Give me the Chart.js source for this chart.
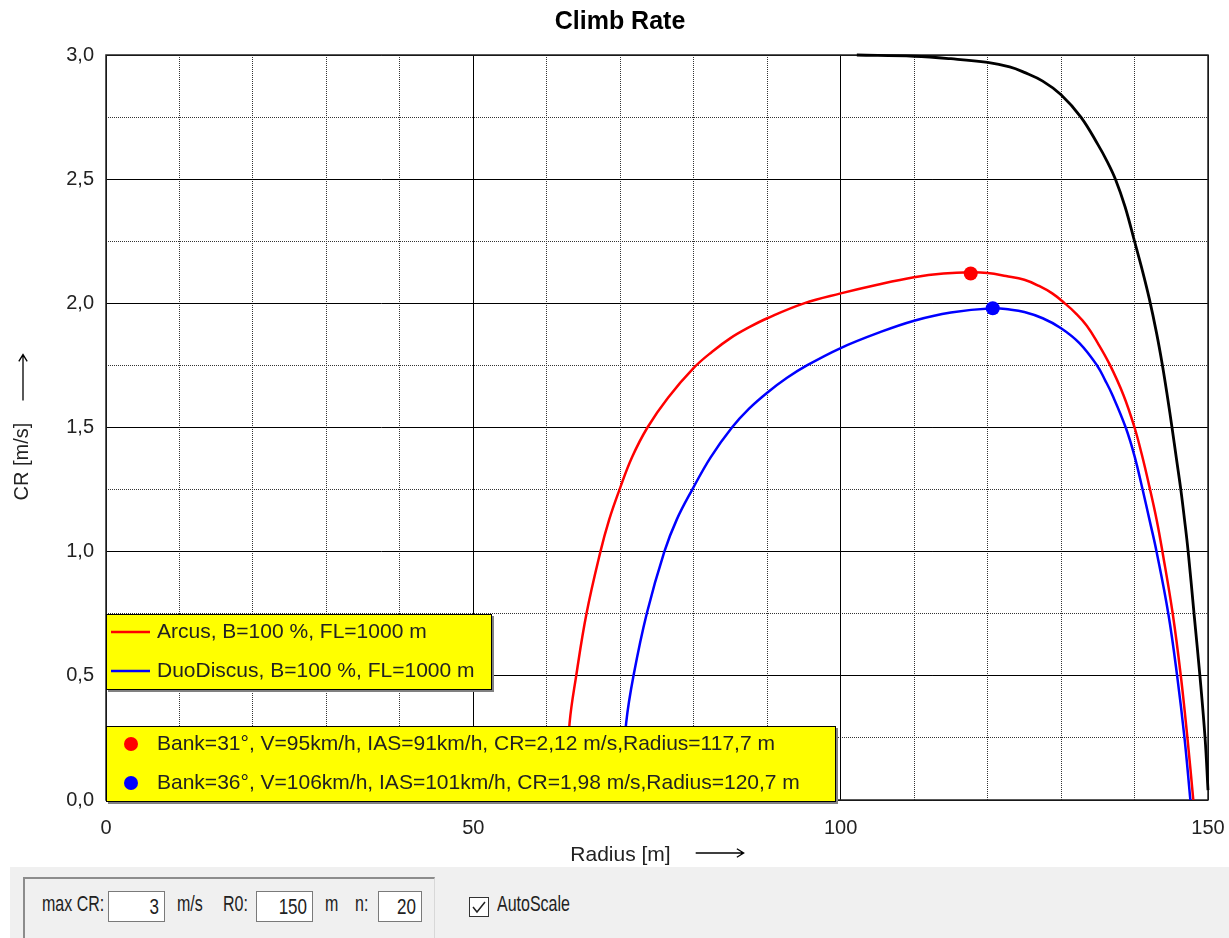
<!DOCTYPE html>
<html>
<head>
<meta charset="utf-8">
<title>Climb Rate</title>
<script src="https://cdn.jsdelivr.net/npm/chart.js@4/dist/chart.umd.min.js"></script>
<style>
    body { margin: 0; background: #fff; font-family: "Liberation Sans", Arial, sans-serif; }
    #wrap { position: relative; width: 1229px; height: 938px; overflow: hidden; }
    #chartClimb { position: absolute; left: 0; top: 0; }
    #panel { position: absolute; left: 10px; top: 867px; width: 1219px; height: 71px; background: #f0f0f0; }
    #group { position: absolute; left: 13px; top: 10px; width: 409px; height: 70px;
             border-top: 2px solid #8c8c8c; border-left: 2px solid #8c8c8c; border-right: 1px solid #d8d8d8; }
    .lbl { position: absolute; top: 28px; font-size: 16px; color: #222; transform: scaleY(1.35); white-space: nowrap; }
    .inp { position: absolute; top: 24px; height: 31px; border: 1px solid #7a7a7a; background: #fff;
           font-size: 17px; color: #222; text-align: right; line-height: 29px; padding-right: 5px; box-sizing: border-box; }
    .inp span { display: inline-block; transform: scaleY(1.35); }
    #chk { position: absolute; left: 459px; top: 30px; width: 20px; height: 20px; box-sizing: border-box;
           border: 1px solid #333; background: #fff; }
</style>
</head>
<body>
<div id="wrap">
    <canvas id="chartClimb" width="1229" height="866"></canvas>
    <div id="panel">
        <div id="group"></div>
        <div class="lbl" style="left:32px">max CR:</div>
        <div class="inp" style="left:98px;width:57px"><span>3</span></div>
        <div class="lbl" style="left:167px">m/s</div>
        <div class="lbl" style="left:213px">R0:</div>
        <div class="inp" style="left:246px;width:57px"><span>150</span></div>
        <div class="lbl" style="left:315px">m</div>
        <div class="lbl" style="left:345px">n:</div>
        <div class="inp" style="left:368px;width:44px"><span>20</span></div>
        <div id="chk"><svg width="18" height="18"><polyline points="3,9 7,14 15,4" fill="none" stroke="#222" stroke-width="1.5"/></svg></div>
        <div class="lbl" style="left:487px">AutoScale</div>
    </div>
</div>
<script>
// Arcus curve (radius m / climb rate m/s)
var radiusArcus = [62.6, 62.9, 63.1, 64.0, 65.4, 67.3, 68.5, 69.9, 71.6, 73.7, 76.5, 80.0, 82.5, 85.0, 87.5, 90.0, 95.0, 100.0, 105.0, 110.0, 114.0, 117.7, 120.0, 122.5, 125.0, 127.0, 128.8, 130.5, 132.0, 133.5, 135.0, 136.6, 138.5, 140.0, 141.0, 142.0, 143.0, 143.8, 145.2, 146.3, 147.2, 148.0];
var crArcus = [0.00, 0.15, 0.31, 0.50, 0.75, 1.00, 1.13, 1.25, 1.38, 1.50, 1.62, 1.74, 1.805, 1.86, 1.903, 1.94, 2.00, 2.04, 2.075, 2.105, 2.12, 2.125, 2.122, 2.11, 2.095, 2.07, 2.04, 2.00, 1.96, 1.91, 1.84, 1.755, 1.63, 1.50, 1.39, 1.265, 1.13, 1.00, 0.75, 0.50, 0.25, 0.00];

// DuoDiscus curve
var radiusDuo = [70.3, 70.5, 70.8, 71.8, 73.6, 76.0, 77.7, 79.8, 82.3, 85.2, 87.5, 90.0, 92.7, 95.4, 100.0, 105.0, 110.0, 115.0, 120.7, 123.0, 125.0, 127.5, 130.0, 132.5, 134.9, 136.0, 137.0, 138.8, 140.0, 141.1, 142.1, 143.0, 144.6, 145.8, 146.8, 147.6];
var crDuo = [0.00, 0.15, 0.31, 0.50, 0.75, 1.00, 1.13, 1.25, 1.38, 1.50, 1.575, 1.64, 1.70, 1.75, 1.82, 1.88, 1.93, 1.963, 1.98, 1.975, 1.965, 1.94, 1.90, 1.84, 1.75, 1.69, 1.63, 1.50, 1.385, 1.25, 1.12, 1.00, 0.75, 0.50, 0.25, 0.00];

// thermal profile (black)
var radiusThermal = [102.2, 110, 115, 120, 123, 125, 127.5, 130, 132.7, 135, 136.3, 137.4, 138.7, 140, 141, 142, 143, 143.8, 144.5, 145.1, 145.7, 146.3, 146.8, 147.3, 148.1, 148.9, 149.6, 150];
var crThermal = [3.0, 2.995, 2.985, 2.97, 2.952, 2.93, 2.895, 2.84, 2.75, 2.64, 2.57, 2.5, 2.39, 2.25, 2.14, 2.02, 1.88, 1.75, 1.62, 1.5, 1.375, 1.25, 1.13, 1.0, 0.75, 0.5, 0.25, 0.04];

// best points
var optRadius = [117.7, 120.7];
var optCR = [2.12, 1.98];

var seriesNames = ['Arcus, B=100 %, FL=1000 m', 'DuoDiscus, B=100 %, FL=1000 m'];
var seriesColors = ['#ff0000', '#0000ff'];
var optTexts = ['Bank=31°, V=95km/h, IAS=91km/h, CR=2,12 m/s,Radius=117,7 m',
                'Bank=36°, V=106km/h, IAS=101km/h, CR=1,98 m/s,Radius=120,7 m'];

var xTickLabels = ['0', '50', '100', '150'];
var yTickLabels = ['0,0', '0,5', '1,0', '1,5', '2,0', '2,5', '3,0'];

function toPoints(xs, ys) {
    return xs.map(function (x, i) { return { x: x, y: ys[i] }; });
}

Chart.defaults.font.family = '"Liberation Sans", Arial, sans-serif';
Chart.defaults.color = '#222';

var FONT = '"Liberation Sans", Arial, sans-serif';

function arrow(ctx, x1, y1, x2, y2) {
    var a = Math.atan2(y2 - y1, x2 - x1);
    ctx.beginPath();
    ctx.moveTo(x1, y1);
    ctx.lineTo(x2, y2);
    ctx.moveTo(x2 - 8 * Math.cos(a - 0.55), y2 - 8 * Math.sin(a - 0.55));
    ctx.lineTo(x2, y2);
    ctx.lineTo(x2 - 8 * Math.cos(a + 0.55), y2 - 8 * Math.sin(a + 0.55));
    ctx.stroke();
}

function yellowBox(ctx, x, y, w, h) {
    ctx.fillStyle = '#808080';
    ctx.fillRect(x + 2, y + 2, w, h);
    ctx.fillStyle = '#ffff00';
    ctx.fillRect(x, y, w, h);
    ctx.strokeStyle = '#000';
    ctx.lineWidth = 1;
    ctx.strokeRect(x + 0.5, y + 0.5, w - 1, h - 1);
}

function noSidePadding(s) {
    s.paddingLeft = 0;
    s.paddingRight = 0;
    s.paddingTop = 0;
    s.paddingBottom = 0;
}

var framePlugin = {
    id: 'frame',
    beforeDatasetsDraw: function (chart) {
        var a = chart.chartArea, ctx = chart.ctx;
        ctx.save();
        ctx.strokeStyle = '#222';
        ctx.lineWidth = 1.5;
        ctx.strokeRect(a.left, a.top, a.right - a.left, a.bottom - a.top);
        ctx.restore();
    }
};

var overlayPlugin = {
    id: 'overlay',
    afterDraw: function (chart) {
        var a = chart.chartArea, ctx = chart.ctx;
        ctx.save();
        ctx.strokeStyle = '#000';
        ctx.lineWidth = 1.3;

        // x axis title + arrow
        ctx.font = '21px ' + FONT;
        ctx.fillStyle = '#222';
        ctx.textBaseline = 'middle';
        ctx.textAlign = 'left';
        var tx = 'Radius [m]';
        var tw = ctx.measureText(tx).width;
        var gx = (a.left + a.right) / 2 - (tw + 25 + 48) / 2;
        ctx.fillText(tx, gx, 855);
        arrow(ctx, gx + tw + 25, 853, gx + tw + 73, 853);

        // y axis title + arrow
        ctx.save();
        ctx.translate(22, (a.top + a.bottom) / 2);
        ctx.rotate(-Math.PI / 2);
        ctx.font = '20px ' + FONT;
        var ty = 'CR [m/s]';
        var tyw = ctx.measureText(ty).width;
        var gy = -(tyw + 22 + 46) / 2;
        ctx.fillText(ty, gy, 0);
        arrow(ctx, gy + tyw + 22, 1, gy + tyw + 68, 1);
        ctx.restore();

        // series legend
        ctx.font = '21px ' + FONT;
        var b1 = a.bottom - 186;
        yellowBox(ctx, a.left, b1, 386, 76);
        seriesNames.forEach(function (name, i) {
            var yy = b1 + 18 + i * 39;
            ctx.strokeStyle = seriesColors[i];
            ctx.lineWidth = 2.5;
            ctx.beginPath();
            ctx.moveTo(a.left + 5, yy);
            ctx.lineTo(a.left + 44, yy);
            ctx.stroke();
            ctx.fillStyle = '#222';
            ctx.fillText(name, a.left + 51, yy);
        });

        // optimum legend
        var b2 = a.bottom - 74;
        yellowBox(ctx, a.left, b2, 730, 76);
        optTexts.forEach(function (t, i) {
            var yy = b2 + 18 + i * 39;
            ctx.fillStyle = seriesColors[i];
            ctx.beginPath();
            ctx.arc(a.left + 25, yy, 7, 0, Math.PI * 2);
            ctx.fill();
            ctx.fillStyle = '#222';
            ctx.fillText(t, a.left + 51, yy);
        });
        ctx.restore();
    }
};

var ctxClimb = document.getElementById('chartClimb').getContext('2d');
var chartClimb = new Chart(ctxClimb, {
    type: 'scatter',
    data: {
        datasets: [{
            label: 'optimum Arcus',
            data: [{ x: optRadius[0], y: optCR[0] }],
            pointRadius: 7,
            backgroundColor: seriesColors[0],
            borderWidth: 0,
            order: 0
        }, {
            label: 'optimum DuoDiscus',
            data: [{ x: optRadius[1], y: optCR[1] }],
            pointRadius: 7,
            backgroundColor: seriesColors[1],
            borderWidth: 0,
            order: 0
        }, {
            label: 'thermal',
            data: toPoints(radiusThermal, crThermal),
            showLine: true,
            borderColor: '#000',
            borderWidth: 2.8,
            pointRadius: 0,
            tension: 0.4,
            clip: 4,
            order: 1
        }, {
            label: seriesNames[0],
            data: toPoints(radiusArcus, crArcus),
            showLine: true,
            borderColor: seriesColors[0],
            borderWidth: 2.5,
            pointRadius: 0,
            tension: 0.4,
            clip: 4,
            order: 2
        }, {
            label: seriesNames[1],
            data: toPoints(radiusDuo, crDuo),
            showLine: true,
            borderColor: seriesColors[1],
            borderWidth: 2.5,
            pointRadius: 0,
            tension: 0.4,
            clip: 4,
            order: 3
        }]
    },
    options: {
        responsive: false,
        animation: false,
        layout: { padding: { left: 32, right: 21, top: 0, bottom: 0 } },
        plugins: {
            legend: { display: false },
            tooltip: { enabled: false },
            title: {
                display: true,
                text: 'Climb Rate',
                color: '#000',
                font: { size: 25, weight: 'bold' },
                padding: { top: 7, bottom: 18 }
            }
        },
        scales: {
            x: {
                type: 'linear',
                position: 'bottom',
                min: 0,
                max: 150,
                afterFit: function (s) { s.height = 66; noSidePadding(s); },
                ticks: {
                    stepSize: 50,
                    autoSkip: false,
                    maxRotation: 0,
                    padding: 16,
                    font: { size: 20 },
                    callback: function (v, i) { return xTickLabels[i]; }
                },
                grid: { color: '#000', lineWidth: 1, drawTicks: false, z: -1 },
                border: { display: false }
            },
            xMinor: {
                type: 'linear',
                position: 'bottom',
                min: 0,
                max: 150,
                afterFit: function (s) { s.height = 0; noSidePadding(s); },
                ticks: { display: false, stepSize: 10 },
                grid: { color: '#333', lineWidth: 1, drawTicks: false, z: -2 },
                border: { display: false, dash: [1, 1] }
            },
            y: {
                type: 'linear',
                position: 'left',
                min: 0,
                max: 3,
                afterFit: function (s) { s.width = 74; noSidePadding(s); },
                ticks: {
                    stepSize: 0.5,
                    padding: 12,
                    font: { size: 20 },
                    callback: function (v, i) { return yTickLabels[i]; }
                },
                grid: { color: '#000', lineWidth: 1, drawTicks: false, z: -1 },
                border: { display: false }
            },
            yMinor: {
                type: 'linear',
                position: 'left',
                min: 0,
                max: 3,
                afterFit: function (s) { s.width = 0; noSidePadding(s); },
                ticks: { display: false, stepSize: 0.25 },
                grid: { color: '#333', lineWidth: 1, drawTicks: false, z: -2 },
                border: { display: false, dash: [1, 1] }
            }
        }
    },
    plugins: [framePlugin, overlayPlugin]
});
</script>
</body>
</html>
